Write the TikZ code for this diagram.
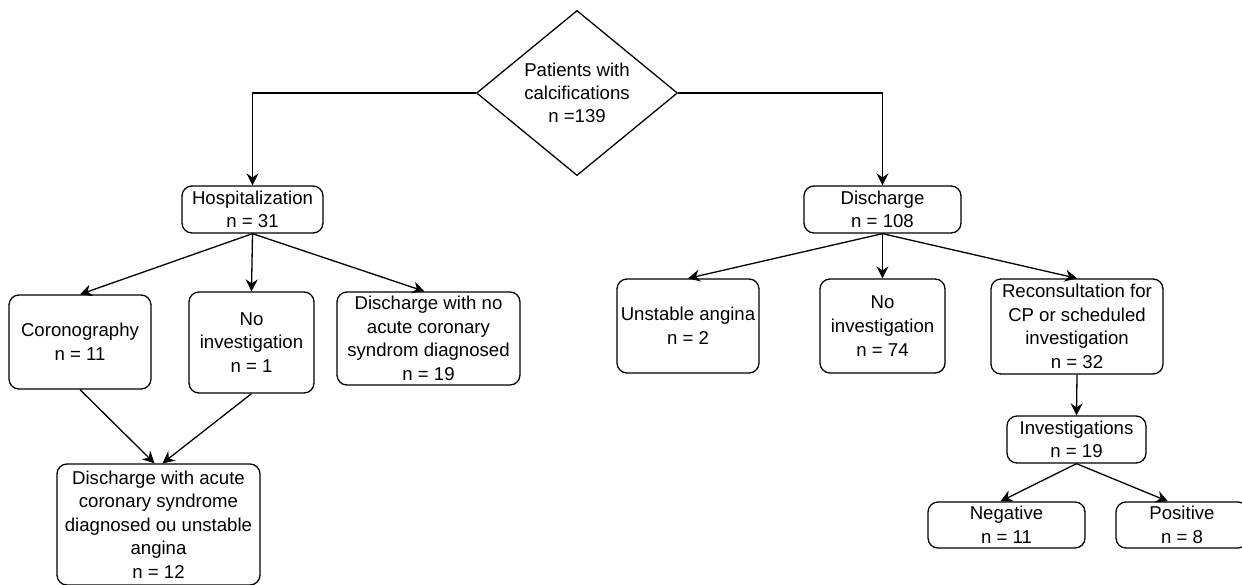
\documentclass[tikz,border=0pt]{standalone}
\usepackage{fontspec}
\setmainfont{Liberation Sans}
\usetikzlibrary{positioning}
\usetikzlibrary{shapes.geometric}
\usetikzlibrary{arrows.meta}
\tikzset{nd/.style={rectangle,draw,rounded corners=5pt,align=center,inner sep=0pt,font=\fontsize{9.3}{11.8}\selectfont}}
\tikzset{ar/.style={-{Stealth[length=6pt,width=6pt,inset=2pt]}}}

\begin{document}
\begin{tikzpicture}[x=0.5pt,y=-0.5pt,line width=0.65pt]
  \useasboundingbox (0,0) rectangle (1242,584);

  % root
  \node[diamond,draw,align=center,inner sep=0pt,minimum width=100.5pt,minimum height=77.5pt,font=\fontsize{9.3}{11.5}\selectfont] (root) at (577,93) {Patients with\\calcifications\\n =139};

  % first level
  \node[nd,minimum width=70.5pt,minimum height=23.5pt] (hosp) at (252.5,209.5) {Hospitalization\\n = 31};
  \node[nd,minimum width=78.5pt,minimum height=23.5pt] (disch) at (882.5,209.5) {Discharge\\n = 108};

  % hospitalization branch
  \node[nd,minimum width=71pt,minimum height=47pt] (coro) at (80,342) {Coronography\\n = 11};
  \node[nd,minimum width=62.5pt,minimum height=50.5pt] (noinvh) at (251.5,342.5) {No\\investigation\\n = 1};
  \node[nd,minimum width=91.5pt,minimum height=46.5pt] (dnoacs) at (428.5,338.5) {Discharge with no\\acute coronary\\syndrom diagnosed\\n = 19};
  \node[nd,minimum width=101.5pt,minimum height=60.5pt] (dacs) at (158.5,524.5) {Discharge with acute\\coronary syndrome\\diagnosed ou unstable\\angina\\n = 12};

  % discharge branch
  \node[nd,minimum width=71pt,minimum height=47pt] (unst) at (688,326) {Unstable angina\\n = 2};
  \node[nd,minimum width=62.5pt,minimum height=47pt] (noinvd) at (882.5,326) {No\\investigation\\n = 74};
  \node[nd,minimum width=86pt,minimum height=47.5pt] (recon) at (1077,326.5) {Reconsultation for\\CP or scheduled\\investigation\\n = 32};
  \node[nd,minimum width=69.5pt,minimum height=23.5pt] (invs) at (1076.5,439.5) {Investigations\\n = 19};
  \node[nd,minimum width=78.5pt,minimum height=23pt] (neg) at (1006.5,525) {Negative\\n = 11};
  \node[nd,minimum width=66pt,minimum height=23pt] (pos) at (1182,525) {Positive\\n = 8};

  % connectors
  \draw[ar] (root.west) -| (hosp.north);
  \draw[ar] (root.east) -| (disch.north);
  \draw[ar] (hosp.south) -- (coro.north);
  \draw[ar] (hosp.south) -- (noinvh.north);
  \draw[ar] (hosp.south) -- ([xshift=-2pt]dnoacs.north);
  \draw[ar] (coro.south) -- ([xshift=-2pt]dacs.north);
  \draw[ar] (noinvh.south) -- ([xshift=2pt]dacs.north);
  \draw[ar] (disch.south) -- (unst.north);
  \draw[ar] (disch.south) -- (noinvd.north);
  \draw[ar] (disch.south) -- (recon.north);
  \draw[ar] (recon.south) -- (invs.north);
  \draw[ar] (invs.south) -- ([xshift=-3pt]neg.north);
  \draw[ar] (invs.south) -- ([xshift=-7pt]pos.north);

\end{tikzpicture}
\end{document}
